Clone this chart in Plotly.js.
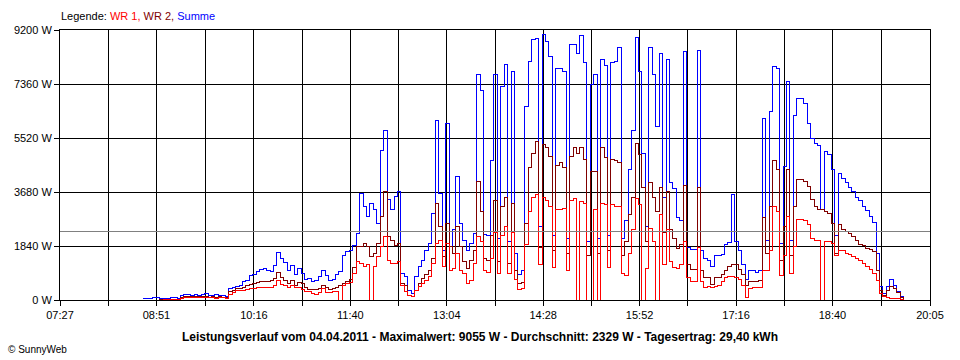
<!DOCTYPE html>
<html>
<head>
<meta charset="utf-8">
<script src="https://cdn.plot.ly/plotly-3.0.1.min.js"></script>
<style>
html,body{margin:0;padding:0;background:#fff;}
#chart{width:960px;height:360px;}
#chart path.js-line{shape-rendering:crispEdges;}
#chart path.xgrid, #chart path.ygrid{shape-rendering:crispEdges;}
</style>
</head>
<body>
<div id="chart"></div>
<script>
// ---- data ----
const seriesNames = ['WR 1', 'WR 2', 'Summe'];
const startMinute = 519;   // 08:39, first logged sample
const stepMinutes = 3;     // logging interval used here

const wr1 = [
  0,0,0,0,0,0,10,10,10,20,20,
  50,70,80,80,70,80,80,70,70,70,60,70,70,60,
  200,240,310,310,320,360,380,400,410,420,420,420,430,480,680,520,500,430,500,430,420,360,300,280,220,200,260,400,250,250,280,300,0,
  510,560,600,900,1310,1250,1140,1200,0,1140,1480,1820,2160,1360,1250,1250,1300,490,300,170,110,340,450,570,680,800,1250,1930,2040,1140,1930,1020,1080,1590,1020,910,570,680,1250,2160,
  2000,1020,950,1400,2300,900,2200,2500,900,2300,700,350,400,1900,3000,3500,3590,1200,3500,3400,3200,1100,3100,3100,3130,1000,3400,3470,0,3370,3300,0,0,3100,0,3300,3250,1100,3250,3200,3200,900,850,
  1600,2400,3470,3240,0,1090,2450,2000,0,2900,1200,2400,1300,1100,1090,1200,2000,760,640,640,1800,640,410,470,410,470,500,640,750,810,810,780,700,500,100,380,410,410,420,1020,1000,1700,3180,3000,850,1500,2840,900,1820,
  2750,2750,2700,2560,2100,2040,2040,0,2000,1990,1930,1500,1700,1700,1600,1550,1480,1420,1330,1250,1150,1050,910,680,230,110,70,60,50,40,30,10
];
const wr2 = [
  0,0,0,0,0,10,10,10,20,20,30,
  80,110,120,120,110,110,120,110,100,110,100,110,100,90,
  280,330,400,400,420,480,520,570,600,620,620,620,680,740,930,780,680,570,680,510,590,560,430,360,360,360,380,510,430,360,400,430,510,
  560,620,700,1100,1820,1820,1930,1820,1480,1590,1930,2840,3690,2160,2040,1870,1930,570,490,170,130,340,570,740,880,1020,1420,3290,2500,1480,2600,1820,1590,2500,1820,1310,1080,1360,1700,4030,
  3000,1430,1330,2200,3400,1300,3200,3500,1250,3300,1000,550,600,2600,4500,5000,5400,1800,5300,5200,4900,1700,4600,4700,4500,1600,4900,5180,5000,5180,4800,1500,4390,4390,1600,5200,4840,1700,4800,4740,4700,1500,2010,
  2900,3500,5330,4950,3820,2000,4000,3500,3000,3820,2300,3700,2400,2100,1770,1900,3890,1200,1050,1050,3820,1000,750,750,520,750,750,860,1000,1150,1200,1200,1050,860,500,640,640,640,660,2800,1600,3180,4770,4430,1360,2500,4430,1500,3180,
  4120,4120,4050,3860,3410,3180,3100,3070,3000,2950,2610,1600,2560,2390,2330,2250,2150,2040,1900,1870,1750,1720,1650,1020,340,170,340,450,400,250,100,30
];
const summe = [
  40,60,50,80,70,50,60,40,80,90,60,
  140,180,200,170,190,150,180,220,170,160,190,150,170,110,
  400,430,470,510,620,680,850,870,960,1050,1060,1000,960,1160,1630,1400,1290,1020,1160,880,1060,900,700,720,640,660,790,1000,820,680,700,880,960,
  1500,1650,1700,1870,2270,3630,3180,2840,3290,3070,2610,5110,5790,3410,3070,3520,3690,910,800,340,230,800,1140,1360,1700,1930,2960,6130,3630,1700,6020,1820,2390,4200,2610,2040,1700,1930,2270,7700,
  7150,2230,2200,4770,7680,2100,7280,8020,2000,7790,1600,860,1000,6610,8130,8860,8900,2500,9050,8800,8300,2200,7900,7900,7800,2100,8700,8700,8400,9000,8100,2000,7340,7700,2100,8190,8000,2200,8100,8130,8600,2100,2700,
  4430,5790,8930,7790,5000,2500,8600,7700,5900,8400,3500,8200,4000,3800,2800,2700,8470,1800,1720,1720,8500,1700,1430,1360,1130,1500,1500,1550,1890,1950,3590,2010,1700,1200,700,1020,1020,950,1000,6200,2040,6430,7950,7900,1930,4540,7440,2040,6300,
  6870,6880,6700,6000,5500,5340,5270,3100,5050,4950,4430,2200,4320,4150,4000,3850,3700,3500,3380,3180,3050,2850,2650,1590,450,230,450,700,500,300,110,40
];
const averageW = 2329;

const timeLabels = ['07:27','08:51','10:16','11:40','13:04','14:28','15:52','17:16','18:40','20:05'];
const powerTicks = [0, 1840, 3680, 5520, 7360, 9200];
const unit = 'W';

const legendLabel = 'Legende:';
const footerText = 'Leistungsverlauf vom 04.04.2011 - Maximalwert: 9055 W - Durchschnitt: 2329 W - Tagesertrag: 29,40 kWh';
const creditText = '\u00a9 SunnyWeb';

const colors = {wr1: '#ff0000', wr2: '#800000', summe: '#0000ff', avg: '#808080'};

// ---- build ----
const toMin = s => { const [h, m] = s.split(':').map(Number); return h * 60 + m; };
const labelMins = timeLabels.map(toMin);
const xMin = labelMins[0], xMax = labelMins[labelMins.length - 1];
const tickvals = [], ticktext = [];
labelMins.forEach((m, i) => {
  tickvals.push(m); ticktext.push(timeLabels[i]);
  if (i < labelMins.length - 1) { tickvals.push((m + labelMins[i + 1]) / 2); ticktext.push(''); }
});
const xs = summe.map((_, i) => startMinute + i * stepMinutes);

const lineTrace = (y, color, name) => ({
  type: 'scatter', mode: 'lines', x: xs, y: y, name: name,
  line: {color: color, width: 1, shape: 'hv'}, hoverinfo: 'skip'
});

const traces = [
  lineTrace(summe, colors.summe, seriesNames[2]),
  lineTrace(wr2, colors.wr2, seriesNames[1]),
  lineTrace(wr1, colors.wr1, seriesNames[0]),
  {type: 'scatter', mode: 'lines', x: [xMin, xMax], y: [averageW, averageW],
   line: {color: colors.avg, width: 1}, hoverinfo: 'skip'}
];

const font = {family: 'Liberation Sans, Arial, sans-serif', size: 11, color: '#000'};
const axisCommon = {
  showgrid: true, gridcolor: '#000', gridwidth: 1,
  showline: true, mirror: true, linecolor: '#000', linewidth: 1,
  ticks: 'outside', ticklen: 5, tickcolor: '#000', tickwidth: 1,
  zeroline: false, tickfont: font, fixedrange: true
};

const layout = {
  width: 960, height: 360,
  margin: {l: 60, r: 30, t: 30, b: 60, pad: 0},
  paper_bgcolor: '#fff', plot_bgcolor: '#fff',
  showlegend: false,
  font: font,
  xaxis: Object.assign({}, axisCommon, {
    range: [xMin, xMax], tickmode: 'array', tickvals: tickvals, ticktext: ticktext
  }),
  yaxis: Object.assign({}, axisCommon, {
    range: [0, powerTicks[powerTicks.length - 1]], tickmode: 'array',
    tickvals: powerTicks, ticktext: powerTicks.map(v => v + ' ' + unit)
  }),
  annotations: [
    {xref: 'paper', yref: 'paper', x: 0, y: 1, xanchor: 'left', yanchor: 'middle',
     yshift: 14, xshift: -1, showarrow: false, font: font,
     text: legendLabel + ' <span style="color:' + colors.wr1 + '">' + seriesNames[0] + ', </span>' +
           '<span style="color:' + colors.wr2 + '">' + seriesNames[1] + ', </span>' +
           '<span style="color:' + colors.summe + '">' + seriesNames[2] + '</span>'},
    {xref: 'paper', yref: 'paper', x: (480 - 60) / 870, y: 0, xanchor: 'center', yanchor: 'middle',
     yshift: -37, showarrow: false,
     font: {family: 'Liberation Sans, Arial, sans-serif', size: 12, color: '#000', weight: 'bold'},
     text: '<b>' + footerText + '</b>'},
    {xref: 'paper', yref: 'paper', x: 0, y: 0, xanchor: 'left', yanchor: 'middle',
     xshift: -54, yshift: -49, showarrow: false,
     font: {family: 'Liberation Sans, Arial, sans-serif', size: 10, color: '#000'},
     text: creditText}
  ]
};

Plotly.newPlot('chart', traces, layout, {staticPlot: true, displayModeBar: false});
</script>
</body>
</html>
